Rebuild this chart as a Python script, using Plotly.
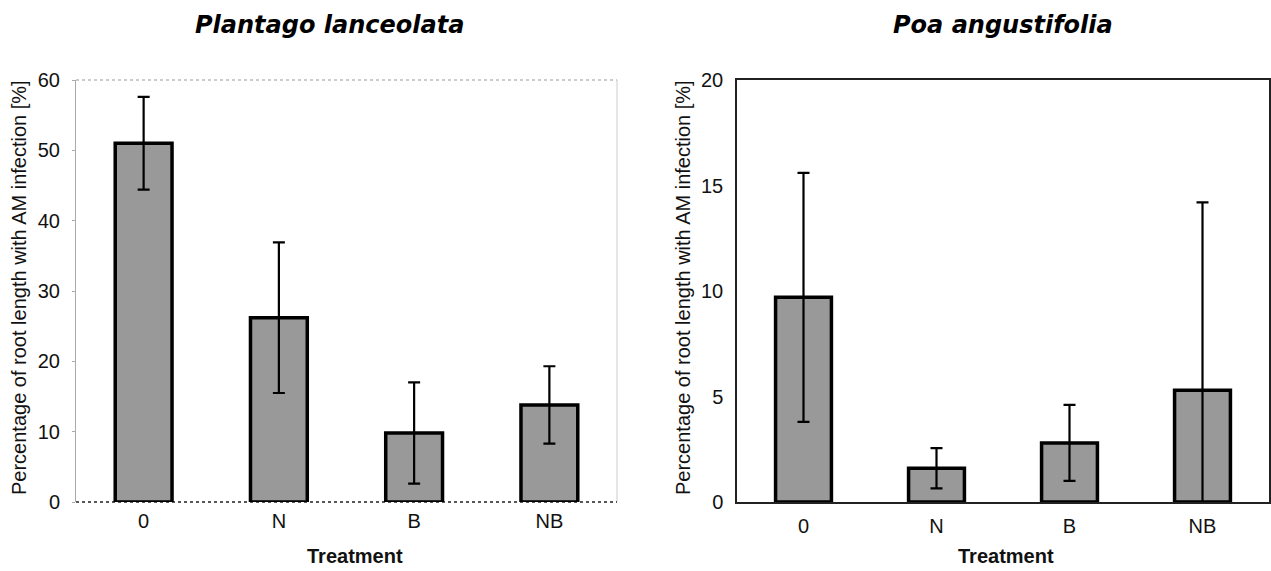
import plotly.graph_objects as go

categories = ["0", "N", "B", "NB"]
plantago_mean = [51.0, 26.2, 9.8, 13.8]
plantago_err = [6.6, 10.7, 7.2, 5.5]
poa_mean = [9.7, 1.6, 2.8, 5.3]
poa_err = [5.9, 0.95, 1.8, 8.9]
left_ticks = [0, 10, 20, 30, 40, 50, 60]
right_ticks = [0, 5, 10, 15, 20]

W, H = 1271, 571
FONT = "Liberation Sans, Arial, sans-serif"
TITLE_FONT = "DejaVu Sans, Liberation Sans, sans-serif"
BAR_FILL = "#999999"

fig = go.Figure()

def add_panel(means, errs, xa, ya):
    fig.add_trace(go.Bar(
        x=categories, y=means, xaxis=xa, yaxis=ya,
        marker=dict(color=BAR_FILL, line=dict(color="black", width=3.5)),
        error_y=dict(type="data", array=errs, visible=True, color="black",
                     thickness=2.2, width=6),
        showlegend=False, hoverinfo="skip",
    ))

add_panel(plantago_mean, plantago_err, "x", "y")
add_panel(poa_mean, poa_err, "x2", "y2")

def px_x(p):
    return p / W

def px_y(p):
    return 1 - p / H

xdom1 = [px_x(76), px_x(617)]
xdom2 = [px_x(737), px_x(1269)]
ydom = [px_y(502), px_y(80)]

tickfont = dict(family=FONT, size=20, color="#111")

fig.update_layout(
    template="none",
    width=W, height=H,
    margin=dict(l=0, r=0, t=0, b=0, autoexpand=False),
    paper_bgcolor="white", plot_bgcolor="white",
    bargap=0.58,
    xaxis=dict(domain=xdom1, anchor="y", showgrid=False, tickfont=tickfont,
               showline=False, ticks="", ticklabelstandoff=5, automargin=False,
               zeroline=False),
    yaxis=dict(domain=ydom, anchor="x", range=[0, 60], tickvals=left_ticks,
               showgrid=False, zeroline=False, tickfont=tickfont,
               showline=True, linecolor="#aaa", linewidth=1,
               ticks="outside", ticklen=3, tickcolor="#aaa",
               ticklabelstandoff=8, automargin=False),
    xaxis2=dict(domain=xdom2, anchor="y2", showgrid=False, tickfont=tickfont,
                showline=True, linecolor="#222", linewidth=1.5, mirror=True,
                ticks="", ticklabelstandoff=5, automargin=False, zeroline=False),
    yaxis2=dict(domain=ydom, anchor="x2", range=[0, 20], tickvals=right_ticks,
                showgrid=False, zeroline=False, tickfont=tickfont,
                showline=True, linecolor="#222", linewidth=1.5, mirror=True,
                ticks="", ticklabelstandoff=8, automargin=False),
)

# light gray frame on top and right of the left panel, dotted dark baseline
fig.add_shape(type="line", xref="x domain", yref="y domain", x0=0, x1=1, y0=1, y1=1,
              line=dict(color="#999", width=1, dash="dot"), layer="below")
fig.add_shape(type="line", xref="x domain", yref="y domain", x0=1, x1=1, y0=0, y1=1,
              line=dict(color="#ccc", width=1), layer="below")
fig.add_shape(type="line", xref="x domain", yref="y domain", x0=0, x1=1, y0=0, y1=0,
              line=dict(color="#222", width=1.5, dash="dot"), layer="below")

annots = [
    dict(text="<b><i>Plantago lanceolata</i></b>", x=px_x(329), y=px_y(25)),
    dict(text="<b><i>Poa angustifolia</i></b>", x=px_x(1003), y=px_y(25)),
]
for a in annots:
    fig.add_annotation(xref="paper", yref="paper", x=a["x"], y=a["y"], text=a["text"],
                       showarrow=False, xanchor="center", yanchor="middle",
                       font=dict(family=TITLE_FONT, size=24, color="black"))

ytitle = "Percentage of root length with AM infection [%]"
for xp in (19, 683):
    fig.add_annotation(xref="paper", yref="paper", x=px_x(xp), y=px_y(288), text=ytitle,
                       showarrow=False, textangle=-90, xanchor="center", yanchor="middle",
                       font=dict(family=FONT, size=20, color="#111"))

for xp in (355, 1006):
    fig.add_annotation(xref="paper", yref="paper", x=px_x(xp), y=px_y(556),
                       text="<b>Treatment</b>", showarrow=False,
                       xanchor="center", yanchor="middle",
                       font=dict(family=FONT, size=20, color="#111"))

fig.write_html("out.html")
